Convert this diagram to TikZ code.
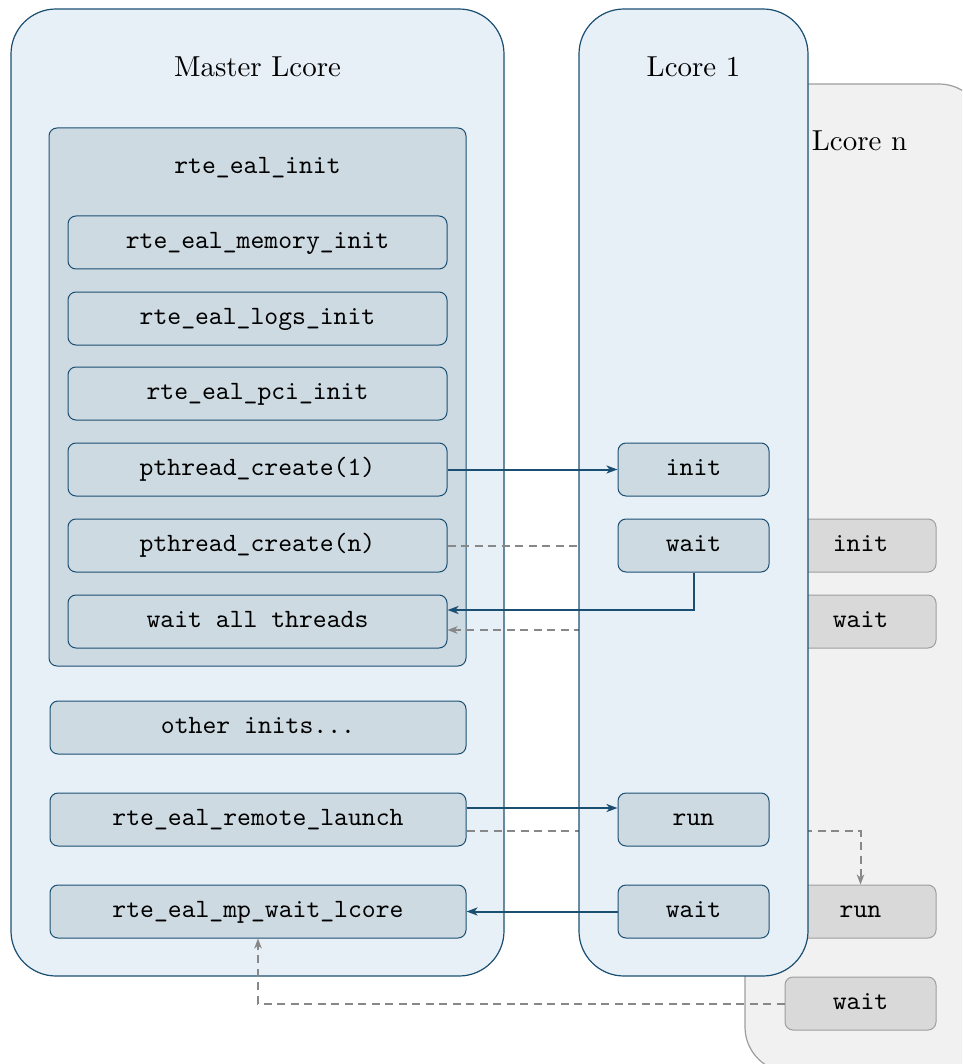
\documentclass[tikz,border=0pt]{standalone}
\usepackage{fontspec}
\usetikzlibrary{arrows.meta}

% design sizes of Latin Modern kept at 10pt, scaled up
\newfontfamily\titlefont{lmroman10-regular}[Extension=.otf]
\newfontfamily\codefont{lmmono10-regular}[Extension=.otf]

\definecolor{lineblue}{HTML}{1B4F72}
\definecolor{corefill}{HTML}{E8F0F7}
\definecolor{funcfill}{HTML}{CDDAE2}
\definecolor{idlefill}{HTML}{F1F1F1}
\definecolor{idleline}{HTML}{9E9E9E}
\definecolor{idlefunc}{HTML}{D9D9D9}
\definecolor{dashgray}{HTML}{888888}

\tikzset{
  core/.style={draw=lineblue, line width=1.2pt, fill=corefill,
    rounded corners=45pt, inner sep=0pt},
  idlecore/.style={draw=idleline, line width=1.2pt, fill=idlefill,
    rounded corners=45pt, inner sep=0pt},
  coretitle/.style={font=\fontsize{28.9}{34}\titlefont, anchor=base, inner sep=0pt},
  monotext/.style={font=\fontsize{26.4}{30}\codefont, text height=16.4pt,
    text depth=5.3pt, inner sep=0pt},
  group/.style={draw=lineblue, line width=1pt, fill=funcfill,
    rounded corners=8pt, inner sep=0pt},
  func/.style={monotext, draw=lineblue, line width=1pt, fill=funcfill,
    rounded corners=8pt, minimum height=53pt},
  mfunc/.style={func, minimum width=379pt},
  wfunc/.style={func, minimum width=416pt},
  lfunc/.style={func, minimum width=151pt},
  nfunc/.style={monotext, draw=idleline, line width=1pt, fill=idlefunc,
    rounded corners=8pt, minimum height=53pt, minimum width=151pt},
  call/.style={draw=lineblue, line width=2pt,
    -{Stealth[length=11pt,width=8pt,inset=3pt]}},
  other/.style={draw=dashgray, line width=2pt, dash pattern=on 8pt off 5.5pt,
    -{Stealth[length=10pt,width=7.5pt,inset=3pt]}}
}

\begin{document}
\begin{tikzpicture}[x=1pt,y=-1pt]
\useasboundingbox (0,0) rectangle (962,1064);
\clip (0,0) rectangle (962,1064);

% Lcore n, lying behind the other cores
\node[idlecore, minimum width=239pt, minimum height=988pt] (coren) at (864.5,578) {};
\node[coretitle] (titlen) at (859.5,151) {Lcore n};
\node[nfunc] (ninit) at (860.5,545.5) {init};
\node[nfunc] (nwaita) at (860.5,621.5) {wait};
\node[nfunc] (nrun) at (860.5,911.5) {run};
\node[nfunc] (nwaitb) at (860.5,1003.5) {wait};

% Master lcore
\node[core, minimum width=493pt, minimum height=967pt] (master) at (257.5,492.5) {};
\node[coretitle] (titlem) at (257.5,77) {Master Lcore};
\node[group, minimum width=417pt, minimum height=538pt] (eal) at (257.5,397) {};
\node[monotext] (ealtitle) at (257.5,167.5) {rte\_eal\_init};
\node[mfunc] (mem) at (257.5,242.5) {rte\_eal\_memory\_init};
\node[mfunc] (logs) at (257.5,318.5) {rte\_eal\_logs\_init};
\node[mfunc] (pci) at (257.5,393.5) {rte\_eal\_pci\_init};
\node[mfunc] (pone) at (257.5,469.5) {pthread\_create(1)};
\node[mfunc] (pn) at (257.5,545.5) {pthread\_create(n)};
\node[mfunc] (wall) at (257.5,621.5) {wait all threads};
\node[wfunc] (oth) at (258,727.5) {other inits...};
\node[wfunc] (launch) at (258,819.5) {rte\_eal\_remote\_launch};
\node[wfunc] (mpwait) at (258,911.5) {rte\_eal\_mp\_wait\_lcore};

% dashed paths to and from Lcore n
\draw[other] (pn.east) -- (ninit.west);
\draw[other] ([yshift=-8.5pt]nwaita.west) -- ([yshift=-8.5pt]wall.east);
\draw[other] ([yshift=-11.5pt]launch.east) -| (nrun.north);
\draw[other] (nwaitb.west) -| (mpwait.south);

% Lcore 1
\node[core, minimum width=229pt, minimum height=967pt] (coreone) at (693.5,492.5) {};
\node[coretitle] (titleone) at (693.5,77) {Lcore 1};
\node[lfunc] (oinit) at (693.5,469.5) {init};
\node[lfunc] (owaita) at (693.5,545.5) {wait};
\node[lfunc] (orun) at (693.5,819.5) {run};
\node[lfunc] (owaitb) at (693.5,911.5) {wait};

% calls between the master and Lcore 1
\draw[call] (pone.east) -- (oinit.west);
\draw[call] (owaita.south) |- ([yshift=11.5pt]wall.east);
\draw[call] ([yshift=11.5pt]launch.east) -- ([yshift=11.5pt]orun.west);
\draw[call] (owaitb.west) -- (mpwait.east);
\end{tikzpicture}
\end{document}
